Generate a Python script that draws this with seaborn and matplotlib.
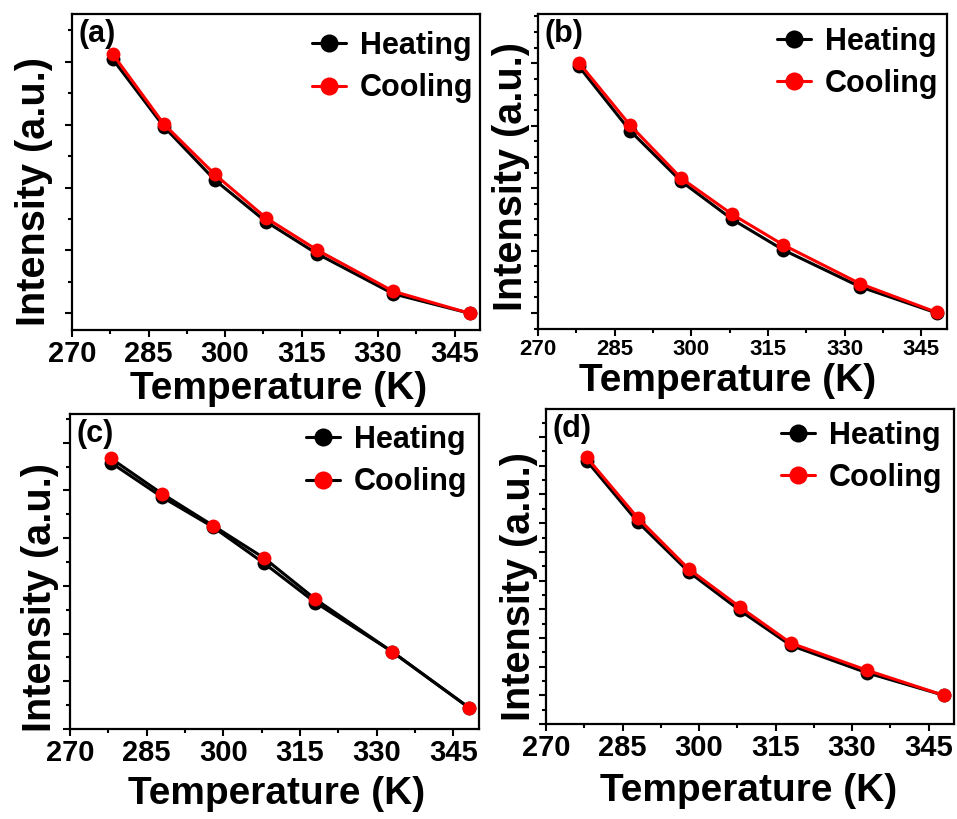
import numpy as np
import pandas as pd
import seaborn as sns
import matplotlib
matplotlib.use("Agg")
import matplotlib.pyplot as plt
from matplotlib.ticker import MultipleLocator

sns.set_theme(style="ticks")
plt.rcParams['font.family'] = ['Liberation Sans', 'DejaVu Sans']
plt.rcParams['font.weight'] = 'bold'
for k in ['text.color', 'axes.labelcolor', 'xtick.color', 'ytick.color', 'axes.edgecolor']:
    plt.rcParams[k] = 'black'

temperature = [278, 288, 298, 308, 318, 333, 348]

heat_a = [4.04, 2.97, 2.12, 1.46, 0.95, 0.31, 0.00]
cool_a = [4.12, 3.01, 2.21, 1.52, 1.01, 0.35, 0.00]

heat_b = [3.95, 2.92, 2.11, 1.50, 1.01, 0.42, 0.00]
cool_b = [4.01, 3.01, 2.16, 1.58, 1.09, 0.47, 0.01]

heat_c = [5.58, 4.86, 4.23, 3.47, 2.65, 1.62, 0.45]
cool_c = [5.67, 4.93, 4.26, 3.58, 2.72, 1.62, 0.45]

heat_d = [9.17, 7.04, 5.30, 3.96, 2.74, 1.78, 1.00]
cool_d = [9.29, 7.18, 5.40, 4.08, 2.82, 1.87, 1.00]

panel_labels = ["(a)", "(b)", "(c)", "(d)"]
x_ticks = [270, 285, 300, 315, 330, 345]
xlabel = "Temperature (K)"
ylabel = "Intensity (a.u.)"
series_names = ["Heating", "Cooling"]

W, H = 957, 819
fig = plt.figure(figsize=(W / 100, H / 100), dpi=100)

# pixel boxes: left, right, top, bottom
boxes = [(72, 480, 14, 330), (538, 947, 14, 329), (70, 479, 414, 729), (546, 954, 409, 724)]
ylims = [(-0.265, 4.76), (-0.256, 4.79), (0.0, 6.6), (0.0, 10.98)]
minor_steps = [0.5, 0.25, 0.5, 0.5]
tick_fs = [21, 16, 21, 21]
xlabel_xy = [(0.506, -0.130), (0.463, -0.108), (0.506, -0.150), (0.4975, -0.156)]
ylabel_xy = [(-0.047, 0.437), (-0.020, 0.483), (-0.028, 0.416), (-0.020, 0.438)]
legend_anchor = [(0.983, 0.946), (0.978, 0.959), (0.971, 0.965), (0.971, 0.962)]
heats = [heat_a, heat_b, heat_c, heat_d]
cools = [cool_a, cool_b, cool_c, cool_d]
cool_line_colors = ["red", "red", "black", "red"]

for i in range(4):
    l, r, t, b = boxes[i]
    ax = fig.add_axes([l / W, 1 - b / H, (r - l) / W, (b - t) / H])
    df = pd.DataFrame({"T": temperature, "Heating": heats[i], "Cooling": cools[i]})
    sns.lineplot(data=df, x="T", y="Heating", ax=ax, color="black", marker="o",
                 markersize=10, markeredgewidth=0, linewidth=2.2, label=series_names[0])
    sns.lineplot(data=df, x="T", y="Cooling", ax=ax, color=cool_line_colors[i], marker="o",
                 markerfacecolor="red", markeredgecolor="red",
                 markersize=10, markeredgewidth=0, linewidth=2.2, label=series_names[1])
    ax.set_xlim(270, 350)
    ax.set_ylim(*ylims[i])
    ax.set_xticks(x_ticks)
    ax.xaxis.set_minor_locator(MultipleLocator(7.5))
    ax.yaxis.set_major_locator(MultipleLocator(1))
    ax.yaxis.set_minor_locator(MultipleLocator(minor_steps[i]))
    ax.tick_params(axis="both", which="major", direction="out", length=5, width=1.5,
                   labelsize=tick_fs[i], pad=2.5, color="black")
    ax.tick_params(axis="both", which="minor", direction="out", length=3, width=1.5, color="black")
    ax.tick_params(axis="y", labelleft=False)
    for lab in ax.get_xticklabels():
        lab.set_fontweight("bold")
    for sp in ax.spines.values():
        sp.set_linewidth(1.6)
        sp.set_color("black")
    ax.set_xlabel(xlabel, fontsize=28, fontweight="bold")
    ax.set_ylabel(ylabel, fontsize=28.5, fontweight="bold")
    ax.xaxis.set_label_coords(*xlabel_xy[i])
    ax.yaxis.set_label_coords(*ylabel_xy[i])
    ax.text(0.015, 0.985, panel_labels[i], transform=ax.transAxes, ha="left", va="top",
            fontsize=22, fontweight="bold")
    ax.legend(loc="upper right", bbox_to_anchor=legend_anchor[i], frameon=False,
              handlelength=1.1, handletextpad=0.45, borderaxespad=0, borderpad=0,
              labelspacing=0.4, markerscale=1.3,
              prop={"weight": "bold", "size": 22})

fig.savefig("out.png", dpi=100)
